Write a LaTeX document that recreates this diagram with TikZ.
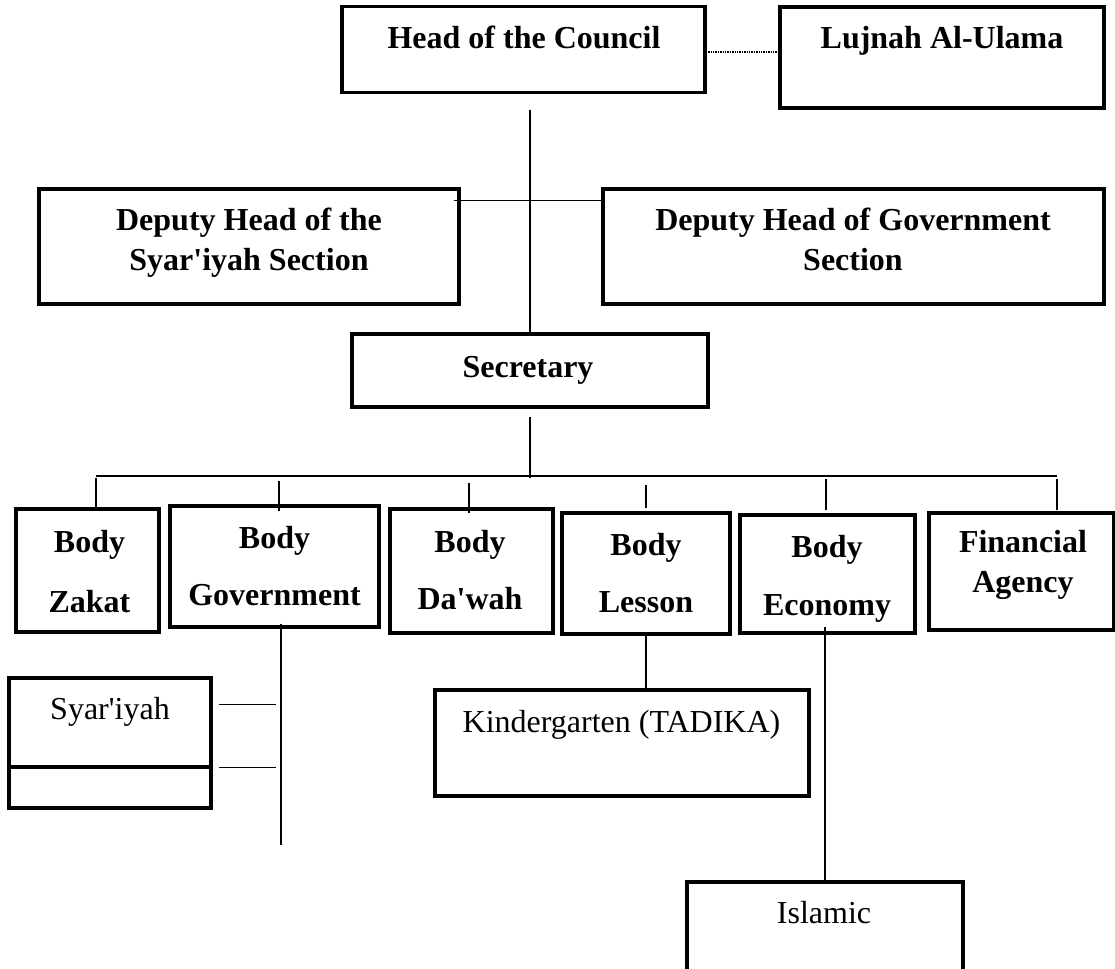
\documentclass[tikz,border=0pt]{standalone}
\usepackage{fontspec}
\setmainfont{Liberation Serif}
\usetikzlibrary{calc,positioning}
\tikzset{box/.style={draw,line width=3.3pt,inner sep=0pt},
  lbl/.style={font=\fontsize{32}{40}\selectfont\bfseries,align=center,anchor=base,inner sep=0pt},
  plain/.style={lbl,font=\fontsize{32}{40}\selectfont},
  ln/.style={line width=1.3pt},
  busln/.style={line width=2pt}}

\begin{document}
\begin{tikzpicture}[x=1pt,y=-1pt]
\useasboundingbox (0,0) rectangle (1115,968);
\clip (0,0) rectangle (1115,968);
% top of the chart
\node[box,minimum width=363,minimum height=86] (head) at (523.5,49.5) {};
\node[lbl] (thead) at (524,49) {Head of the Council};
\node[box,minimum width=324,minimum height=101] (luj) at (942,57.5) {};
\node[lbl] (tluj) at (942,49) {Lujnah Al-Ulama};
\node[box,minimum width=420,minimum height=115] (dsy) at (249,246.5) {};
\node[lbl] (tdsy) at (249,270) {Deputy Head of the\\Syar\textquotesingle iyah Section};
\node[box,minimum width=501,minimum height=115] (dgv) at (853.5,246.5) {};
\node[lbl] (tdgv) at (853,270) {Deputy Head of Government\\Section};
\node[box,minimum width=356,minimum height=73] (sec) at (530,370.5) {};
\node[lbl] (tsec) at (528,377) {Secretary};
% bodies
\node[box,minimum width=143,minimum height=123] (zak) at (87.5,570.5) {};
\node[lbl] (tzak) at (89.5,612) {Body\\[20pt]Zakat};
\node[box,minimum width=209,minimum height=121] (gov) at (274.5,566.5) {};
\node[lbl] (tgov) at (274.5,605) {Body\\[17pt]Government};
\node[box,minimum width=163,minimum height=124] (dwh) at (471.5,571) {};
\node[lbl] (tdwh) at (470,609) {Body\\[17pt]Da\textquotesingle wah};
\node[box,minimum width=168,minimum height=121] (les) at (646,573.5) {};
\node[lbl] (tles) at (646,612) {Body\\[17pt]Lesson};
\node[box,minimum width=175,minimum height=118] (eco) at (827.5,574) {};
\node[lbl] (teco) at (827,615) {Body\\[18pt]Economy};
\node[box,minimum width=185,minimum height=117] (fin) at (1021.5,571.5) {};
\node[lbl] (tfin) at (1023,592) {Financial\\Agency};
% lower units
\node[box,minimum width=202,minimum height=89] (syr) at (110,722.5) {};
\node[box,minimum width=202,minimum height=41] (syr2) at (110,787.5) {};
\node[plain] (tsyr) at (110,719) {Syar\textquotesingle iyah};
\node[box,minimum width=374,minimum height=106] (kin) at (622,743) {};
\node[plain] (tkin) at (621.5,732) {Kindergarten (TADIKA)};
\node[box,minimum width=276,minimum height=120] (isl) at (825,942) {};
\node[plain] (tisl) at (824,923) {Islamic};
% lines
\draw[line width=1.4pt,densely dotted] ($(head.east)+(1.5,2.5)$) -- ($(head.east -| luj.west)+(0,2.5)$);
\draw[ln] (sec.north |- luj.south) -- (sec.north);
\draw[line width=1.6pt] ($(dsy.north east)+(-7,13)$) -- ($(dgv.north west)+(0,13)$);
\coordinate (bus) at (530,478);
\draw[ln] ($(sec.south)+(0,8)$) -- (bus);
\draw[busln] ($(zak.north)+(8.5,-31)$) -- ($(fin.north)+(35.5,-35)$);
\foreach \n/\dx/\dy/\g in {zak/8.5/3.5/0,gov/4.5/7/3,dwh/-2.5/6/5,les/0/-3/7,eco/-1.5/-3/1,fin/35.5/-1/1}
  \draw[ln] ($(\n.north)+(\dx,\dy)$) coordinate (d) -- ($(d |- bus)+(0,\g)$);
\draw[ln] ($(gov.south)+(6.5,-5)$) coordinate (g1) -- ++(0,221) coordinate (gend);
\draw[ln] ($(syr.north east)+(6,28)$) -- ($(g1 |- syr.north east)+(-5,28)$);
\draw[ln] ($(syr2.north east)+(6,2)$) -- ($(g1 |- syr2.north east)+(-5,2)$);
\draw[ln] (les.south) -- (les.south |- kin.north);
\draw[ln] ($(eco.south)+(-2.5,-8)$) -- (isl.north);
\end{tikzpicture}
\end{document}
